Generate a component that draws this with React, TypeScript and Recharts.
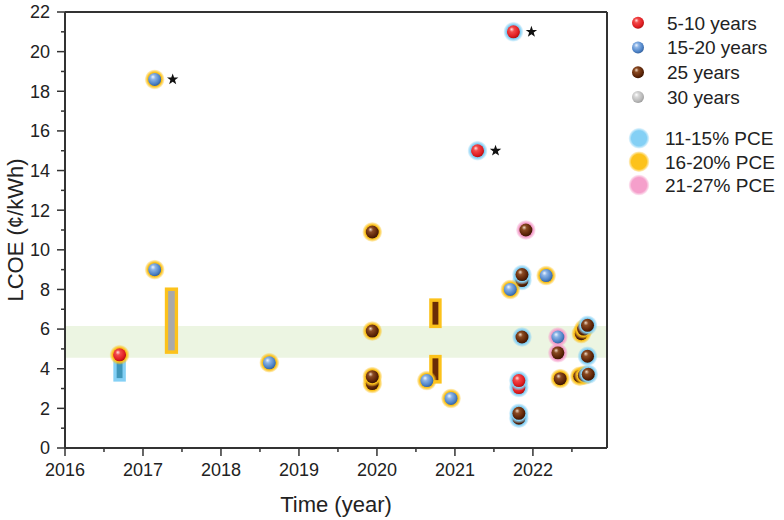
import React from "react";
import { ScatterChart, Scatter, XAxis, YAxis, ReferenceArea, ReferenceLine } from "recharts";

// lifetime groups (inner ball colour), pce = ring colour
const shortLife = [
  { year: 2016.7, lcoe: 4.7, pce: "mid" },
  { year: 2021.29, lcoe: 15.0, pce: "low", star: true },
  { year: 2021.75, lcoe: 21.0, pce: "low", star: true },
  { year: 2021.82, lcoe: 3.05, pce: "low" },
  { year: 2021.82, lcoe: 3.4, pce: "low" },
];

const midLife = [
  { year: 2017.15, lcoe: 18.6, pce: "mid", star: true },
  { year: 2017.15, lcoe: 9.0, pce: "mid" },
  { year: 2018.62, lcoe: 4.3, pce: "mid" },
  { year: 2020.64, lcoe: 3.4, pce: "mid" },
  { year: 2020.95, lcoe: 2.5, pce: "mid" },
  { year: 2021.71, lcoe: 8.0, pce: "mid" },
  { year: 2022.17, lcoe: 8.7, pce: "mid" },
  { year: 2022.32, lcoe: 5.6, pce: "high" },
];

const life25 = [
  { year: 2019.94, lcoe: 10.9, pce: "mid" },
  { year: 2019.94, lcoe: 5.9, pce: "mid" },
  { year: 2019.94, lcoe: 3.25, pce: "mid" },
  { year: 2019.94, lcoe: 3.6, pce: "mid" },
  { year: 2021.91, lcoe: 11.0, pce: "high" },
  { year: 2021.86, lcoe: 8.45, pce: "low" },
  { year: 2021.86, lcoe: 8.75, pce: "low" },
  { year: 2021.86, lcoe: 5.6, pce: "low" },
  { year: 2021.82, lcoe: 1.5, pce: "low" },
  { year: 2021.82, lcoe: 1.75, pce: "low" },
  { year: 2022.32, lcoe: 4.8, pce: "high" },
  { year: 2022.35, lcoe: 3.5, pce: "mid" },
  { year: 2022.6, lcoe: 3.62, pce: "mid" },
  { year: 2022.66, lcoe: 3.67, pce: "mid" },
  { year: 2022.71, lcoe: 3.72, pce: "low" },
  { year: 2022.7, lcoe: 4.63, pce: "low" },
  { year: 2022.62, lcoe: 5.77, pce: "mid" },
  { year: 2022.65, lcoe: 6.0, pce: "mid" },
  { year: 2022.7, lcoe: 6.19, pce: "low" },
];

// reported ranges drawn as boxes
const lcoeRanges = [
  { x1: 2016.62, x2: 2016.78, y1: 3.35, y2: 4.7, life: "mid", pce: "low" },
  { x1: 2017.28, x2: 2017.45, y1: 4.75, y2: 8.1, life: "30", pce: "mid" },
  { x1: 2020.67, x2: 2020.83, y1: 6.05, y2: 7.55, life: "25", pce: "mid" },
  { x1: 2020.67, x2: 2020.83, y1: 3.25, y2: 4.7, life: "25", pce: "mid" },
];

const band = { y1: 4.55, y2: 6.15 };

const xTicks = [2016, 2016.5, 2017, 2017.5, 2018, 2018.5, 2019, 2019.5, 2020, 2020.5, 2021, 2021.5, 2022, 2022.5];
const yTicks = [0, 1, 2, 3, 4, 5, 6, 7, 8, 9, 10, 11, 12, 13, 14, 15, 16, 17, 18, 19, 20, 21, 22];

const lifeLegend = [
  { key: "short", label: "5-10 years" },
  { key: "mid", label: "15-20 years" },
  { key: "25", label: "25 years" },
  { key: "30", label: "30 years" },
];
const pceLegend = [
  { key: "low", label: "11-15% PCE" },
  { key: "mid", label: "16-20% PCE" },
  { key: "high", label: "21-27% PCE" },
];

const ballColors: Record<string, string[]> = {
  short: ["#ffe0e0", "#f24a4a", "#e11f24", "#b01010"],
  mid: ["#f0f6ff", "#8cb4e6", "#4f84c8", "#34619c"],
  "25": ["#f2dcc8", "#8a4a22", "#5e2508", "#3a1503"],
  "30": ["#ffffff", "#d8d8d8", "#b8b8b8", "#9a9a9a"],
};
const ringColors: Record<string, string> = { low: "#84d0f5", mid: "#fcc21b", high: "#f59fcb" };
const boxInner: Record<string, string> = { mid: "#3f97ba", "30": "#a9a9a9", "25": "#6a2c06" };

const FONT = '"Liberation Sans", Arial, sans-serif';
const AXIS = "#333";

function starPath(cx: number, cy: number, ro: number, ri: number) {
  let d = "";
  for (let i = 0; i < 10; i++) {
    const r = i % 2 === 0 ? ro : ri;
    const a = -Math.PI / 2 + (i * Math.PI) / 5;
    d += (i === 0 ? "M" : "L") + (cx + r * Math.cos(a)).toFixed(2) + "," + (cy + r * Math.sin(a)).toFixed(2);
  }
  return d + "Z";
}

function Defs() {
  return (
    <defs>
      {Object.keys(ballColors).map((k) => {
        const c = ballColors[k];
        return (
          <radialGradient key={k} id={`ball-${k}`} cx="0.42" cy="0.4" r="0.62" fx="0.36" fy="0.3">
            <stop offset="0" stopColor={c[0]} />
            <stop offset="0.3" stopColor={c[1]} />
            <stop offset="0.75" stopColor={c[2]} />
            <stop offset="1" stopColor={c[3]} />
          </radialGradient>
        );
      })}
      {Object.keys(ringColors).map((k) => (
        <radialGradient key={k} id={`ring-${k}`} cx="0.5" cy="0.5" r="0.5">
          <stop offset="0" stopColor={ringColors[k]} />
          <stop offset="0.72" stopColor={ringColors[k]} />
          <stop offset="1" stopColor={ringColors[k]} stopOpacity="0.1" />
        </radialGradient>
      ))}
    </defs>
  );
}

function Ball(props: any) {
  const { cx, cy, payload, life } = props;
  if (cx == null || cy == null) return null;
  return (
    <g>
      <circle cx={cx} cy={cy} r={10} fill={`url(#ring-${payload.pce})`} />
      <circle cx={cx} cy={cy} r={6.5} fill={`url(#ball-${life})`} />
      {payload.star && <path d={starPath(cx + 18, cy, 6, 2.4)} fill="#111" />}
    </g>
  );
}

function RangeBox(props: any) {
  const { x, y, width, height, box } = props;
  if (x == null) return null;
  return (
    <g>
      <rect x={x} y={y} width={width} height={height} fill={ringColors[box.pce]} />
      <rect x={x + 3.3} y={y + 3.5} width={width - 6.6} height={height - 7} fill={boxInner[box.life]} />
    </g>
  );
}

function XTick(props: any) {
  const { x, y, payload } = props;
  const major = Number.isInteger(payload.value);
  return (
    <g>
      <line x1={x} x2={x} y1={y} y2={y + (major ? 8 : 4)} stroke={AXIS} strokeWidth={1.5} />
      {major && (
        <text x={x} y={y + 15} dy="0.71em" textAnchor="middle" fontSize={18} fill="#222" fontFamily={FONT}>
          {payload.value}
        </text>
      )}
    </g>
  );
}

function YTick(props: any) {
  const { x, y, payload } = props;
  const major = payload.value % 2 === 0;
  return (
    <g>
      <line x1={x} x2={x - (major ? 8 : 4)} y1={y} y2={y} stroke={AXIS} strokeWidth={1.5} />
      {major && (
        <text x={x - 15} y={y} dy="0.355em" textAnchor="end" fontSize={18} fill="#222" fontFamily={FONT}>
          {payload.value}
        </text>
      )}
    </g>
  );
}

function Legend() {
  return (
    <svg width={784} height={520} style={{ position: "absolute", left: 0, top: 0, pointerEvents: "none" }}>
      <Defs />
      {lifeLegend.map((d, i) => {
        const cy = 22.7 + i * 24.8;
        return (
          <g key={d.key}>
            <circle cx={638} cy={cy} r={6} fill={`url(#ball-${d.key})`} />
            <text x={667} y={cy + 6.8} fontSize={19} fill="#222" fontFamily={FONT}>
              {d.label}
            </text>
          </g>
        );
      })}
      {pceLegend.map((d, i) => {
        const cy = 138.3 + i * 23.4;
        return (
          <g key={d.key}>
            <circle cx={639} cy={cy} r={10.5} fill={`url(#ring-${d.key})`} />
            <text x={665} y={cy + 6.8} fontSize={19} fill="#222" fontFamily={FONT}>
              {d.label}
            </text>
          </g>
        );
      })}
    </svg>
  );
}

export default function App() {
  return (
    <div style={{ position: "absolute", left: 0, top: 0, width: 784, height: 520, background: "#fff", fontFamily: FONT }}>
      <ScatterChart width={784} height={520} margin={{ top: 12, right: 177, bottom: 0, left: 0 }}>
        <XAxis
          type="number"
          dataKey="year"
          domain={[2016, 2022.95]}
          ticks={xTicks}
          interval={0}
          tick={<XTick />}
          tickSize={0}
          tickMargin={0}
          tickLine={false}
          height={72}
          axisLine={{ stroke: AXIS, strokeWidth: 2 }}
          allowDataOverflow
          label={{ value: "Time (year)", position: "insideBottom", offset: 8, fontSize: 22, fill: "#222", fontFamily: FONT }}
        />
        <YAxis
          type="number"
          dataKey="lcoe"
          domain={[0, 22]}
          ticks={yTicks}
          interval={0}
          tick={<YTick />}
          tickSize={0}
          tickMargin={0}
          tickLine={false}
          width={65}
          axisLine={{ stroke: AXIS, strokeWidth: 2 }}
          allowDataOverflow
          label={{
            value: "LCOE (¢/kWh)",
            angle: -90,
            position: "insideLeft",
            offset: 15,
            fontSize: 22,
            fill: "#222",
            fontFamily: FONT,
            style: { textAnchor: "middle" },
          }}
        />
        <ReferenceArea y1={band.y1} y2={band.y2} fill="#ecf5e2" fillOpacity={1} stroke="none" />
        <ReferenceLine y={22} stroke={AXIS} strokeWidth={2} />
        <ReferenceLine x={2022.95} stroke={AXIS} strokeWidth={2} />
        {lcoeRanges.map((r, i) => (
          <ReferenceArea
            key={i}
            x1={r.x1}
            x2={r.x2}
            y1={r.y1}
            y2={r.y2}
            shape={(p: any) => <RangeBox {...p} box={r} />}
          />
        ))}
        <Scatter data={life25} shape={(p: any) => <Ball {...p} life="25" />} isAnimationActive={false} />
        <Scatter data={midLife} shape={(p: any) => <Ball {...p} life="mid" />} isAnimationActive={false} />
        <Scatter data={shortLife} shape={(p: any) => <Ball {...p} life="short" />} isAnimationActive={false} />
      </ScatterChart>
      <Legend />
    </div>
  );
}
